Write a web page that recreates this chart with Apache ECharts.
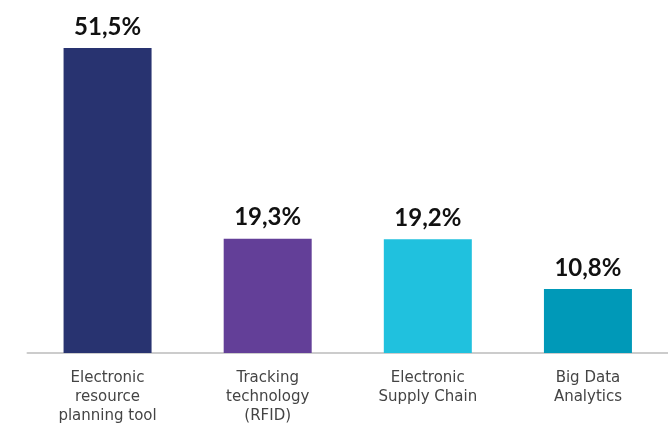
<!DOCTYPE html>
<html><head><meta charset="utf-8">
<script src="https://cdn.jsdelivr.net/npm/echarts@6/dist/echarts.min.js"></script>
<style>html,body{margin:0;padding:0;background:#fff}#c{width:668px;height:427px}</style>
</head><body><div id="c"></div>
<script>
const categories = ["Electronic\nresource\nplanning tool", "Tracking\ntechnology\n(RFID)", "Electronic\nSupply Chain", "Big Data\nAnalytics"];
const values = [51.5, 19.3, 19.2, 10.8];
const barColors = ["#283370", "#633f98", "#20c1de", "#0099b8"];
const chart = echarts.init(document.getElementById('c'));
chart.setOption({
  animation: false,
  grid: {left: 27.5, right: -3.5, top: 48, bottom: 74, containLabel: false},
  xAxis: {
    type: 'category', data: categories,
    axisLine: {lineStyle: {color: '#cccccc', width: 2}},
    axisTick: {show: false},
    axisLabel: {color: '#444444', fontSize: 15, lineHeight: 19, margin: 16, fontFamily: 'DejaVu Sans', interval: 0}
  },
  yAxis: {type: 'value', min: 0, max: 51.5, show: false, splitLine: {show: false}},
  series: [{
    type: 'bar', barWidth: 88,
    data: values.map((v, i) => ({value: v, itemStyle: {color: barColors[i]}})),
    label: {show: true, position: 'top', distance: 9, color: '#111111', fontSize: 24, fontWeight: 'bold', fontFamily: 'Lato',
      formatter: p => p.value.toFixed(1).replace('.', ',') + '%'}
  }]
});
</script></body></html>
